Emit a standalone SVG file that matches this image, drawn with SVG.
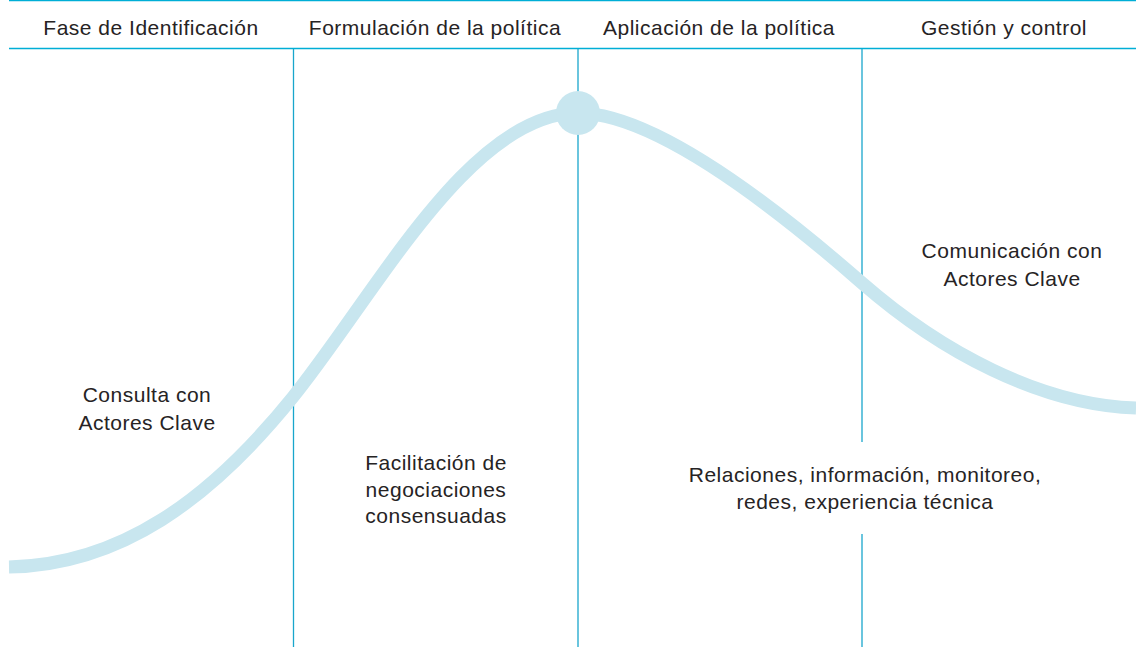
<svg xmlns="http://www.w3.org/2000/svg" width="1136" height="647" viewBox="0 0 1136 647">
  <style>
    .rule { stroke: #00aed6; stroke-width: 1.5; fill: none; }
    .vline { stroke: #19a6cc; stroke-width: 1.3; fill: none; }
    .curve { stroke: #c8e6ef; stroke-width: 13; fill: none; stroke-linecap: butt; }
    text { font-family: "Liberation Sans", Arial, sans-serif; font-size: 21px; fill: #262324; text-anchor: middle; letter-spacing: 0.5px; }
  </style>
  <rect width="1136" height="647" fill="#ffffff"/>
  <g id="grid">
    <line class="rule" x1="9" y1="0.6" x2="1136" y2="0.6"/>
    <line class="rule" x1="9" y1="48.5" x2="1136" y2="48.5"/>
  </g>
  <g id="connectors">
    <line class="vline" x1="293.5" y1="49" x2="293.5" y2="647"/>
    <line class="vline" x1="578" y1="49" x2="578" y2="647"/>
    <line class="vline" x1="862" y1="49" x2="862" y2="442"/>
    <line class="vline" x1="862" y1="534" x2="862" y2="647"/>
    <path class="curve" d="M9 567 C120 565 210 500 293 397 C376 294 470 113 578 113 C660 113 790 220 862 283 C940 351 1040 405 1136 408"/>
  </g>
  <g id="peak">
    <circle cx="578" cy="113" r="22" fill="#c8e6ef"/>
  </g>
  <g id="header-identificacion"><text x="151" y="35">Fase de Identificación</text></g>
  <g id="header-formulacion"><text x="435" y="35">Formulación de la política</text></g>
  <g id="header-aplicacion"><text x="719" y="35">Aplicación de la política</text></g>
  <g id="header-gestion"><text x="1004" y="35">Gestión y control</text></g>
  <g id="consulta">
    <text x="147" y="402">Consulta con</text>
    <text x="147" y="430">Actores Clave</text>
  </g>
  <g id="facilitacion">
    <text x="436" y="470">Facilitación de</text>
    <text x="436" y="497">negociaciones</text>
    <text x="436" y="523">consensuadas</text>
  </g>
  <g id="comunicacion">
    <text x="1012" y="258">Comunicación con</text>
    <text x="1012" y="286">Actores Clave</text>
  </g>
  <g id="relaciones">
    <text x="865" y="482">Relaciones, información, monitoreo,</text>
    <text x="865" y="509">redes, experiencia técnica</text>
  </g>
</svg>
